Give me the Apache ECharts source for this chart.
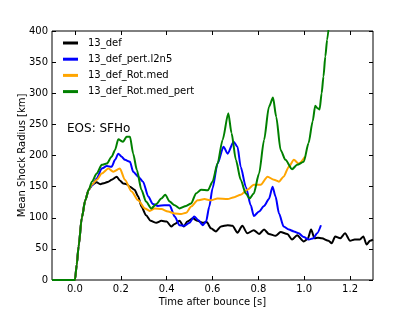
<!DOCTYPE html>
<html>
<head>
<meta charset="utf-8">
<script src="https://cdn.jsdelivr.net/npm/echarts@6/dist/echarts.min.js"></script>
<style>
html,body{margin:0;padding:0;background:#fff;}
#c{width:415px;height:312px;}
</style>
</head>
<body>
<div id="c"></div>
<script>
// ---- data ----
const seriesNames = ['13_def', '13_def_pert.l2n5', '13_def_Rot.med', '13_def_Rot.med_pert'];
const xTicks = [0.0, 0.2, 0.4, 0.6, 0.8, 1.0, 1.2];

const defT = [-0.1,0.0,0.008,0.016,0.03,0.045,0.06,0.075,0.095,0.11,0.13,0.146,0.16,0.182,0.196,0.21,0.225,0.24,0.26,0.276,0.29,0.31,0.33,0.355,0.377,0.4,0.42,0.435,0.456,0.475,0.49,0.514,0.535,0.557,0.575,0.593,0.615,0.637,0.666,0.687,0.709,0.73,0.752,0.78,0.803,0.825,0.846,0.875,0.897,0.926,0.947,0.969,0.998,1.015,1.03,1.045,1.06,1.077,1.106,1.12,1.135,1.157,1.178,1.2,1.22,1.243,1.258,1.272,1.287,1.3];
const defV = [0,0,25,54,100,128,145,153,157,154,156,158,161,166,160,155,154,150,145,134,118,104,95,92,95,94,86,90,95,86,94,99,95,92,93,83,78,86,88,87,76,87,75,80,74,81,74,71,77,74,65,72,62,66,81,67,68,67,63,59,70,67,75,63,65,65,70,57,63,65];

const pertT = [-0.1,0.0,0.008,0.016,0.03,0.045,0.06,0.075,0.095,0.117,0.139,0.16,0.175,0.189,0.204,0.218,0.24,0.254,0.276,0.297,0.32,0.34,0.362,0.39,0.413,0.435,0.456,0.478,0.5,0.52,0.539,0.557,0.572,0.586,0.6,0.622,0.648,0.666,0.692,0.709,0.723,0.745,0.767,0.78,0.803,0.825,0.846,0.862,0.875,0.89,0.91,0.933,0.955,0.976,0.998,1.02,1.04,1.056,1.073];
const pertV = [0,0,25,54,100,128,145,152,163,179,183,182,193,203,198,193,190,174,166,158,134,122,119,120,120,102,88,87,92,102,96,88,94,118,147,187,214,203,222,214,182,150,120,103,110,119,130,150,134,107,86,81,78,75,69,65,67,75,88];

const rotT = [-0.1,0.0,0.008,0.016,0.03,0.045,0.06,0.074,0.095,0.117,0.146,0.167,0.196,0.218,0.247,0.276,0.305,0.326,0.348,0.377,0.406,0.435,0.463,0.485,0.507,0.535,0.565,0.593,0.622,0.666,0.695,0.723,0.752,0.78,0.81,0.84,0.868,0.89,0.91,0.933,0.955,0.976,1.003];
const rotV = [0,0,25,54,100,128,145,153,161,171,179,174,179,161,142,128,115,111,115,114,110,107,106,108,118,128,130,128,131,130,133,137,145,153,153,166,161,158,166,182,193,187,198];

const rotPertT = [-0.1,0.0,0.008,0.016,0.03,0.045,0.06,0.074,0.095,0.117,0.139,0.16,0.175,0.189,0.21,0.225,0.24,0.254,0.27,0.29,0.31,0.333,0.355,0.377,0.394,0.413,0.435,0.456,0.485,0.507,0.528,0.55,0.58,0.6,0.622,0.644,0.669,0.683,0.702,0.723,0.745,0.762,0.78,0.803,0.825,0.846,0.864,0.878,0.897,0.918,0.947,0.969,0.998,1.019,1.037,1.048,1.058,1.067,1.076,1.084,1.092,1.1,1.115];
const rotPertV = [0,0,25,54,100,128,145,158,171,185,187,198,209,226,222,230,230,203,177,145,126,115,122,131,137,126,120,115,119,123,139,145,144,158,187,225,268,236,193,161,139,131,139,171,225,278,293,262,209,193,178,185,190,220,255,280,276,274,300,327,359,386,440];

const colors = ['#000000', '#0000ff', '#ffa500', '#008000'];

function pairs(t, v) { return t.map((x, i) => [x, v[i]]); }
const allData = [pairs(defT, defV), pairs(pertT, pertV), pairs(rotT, rotV), pairs(rotPertT, rotPertV)];

const chart = echarts.init(document.getElementById('c'), null, {renderer: 'canvas'});
const font = 'DejaVu Sans';
const tickCommon = {show: true, inside: true, length: 4, lineStyle: {color: '#000', width: 1}};
const noLine = {show: false, onZero: false};

const option = {
  animation: false,
  backgroundColor: '#fff',
  textStyle: {fontFamily: font, color: '#000'},
  grid: {left: 52, right: 42, top: 31, bottom: 32, show: true, borderColor: '#000', borderWidth: 1, backgroundColor: 'transparent'},
  legend: {
    orient: 'vertical', left: 58, top: 33, itemWidth: 15, itemHeight: 3, itemGap: 6.2,
    icon: 'rect',
    data: seriesNames,
    textStyle: {fontFamily: font, fontSize: 10, color: '#000', padding: [0, 0, 0, 5]}
  },
  graphic: [{
    type: 'text', left: 67, top: 123,
    style: {text: 'EOS: SFHo', font: '12px "DejaVu Sans"', fill: '#000'}
  }],
  xAxis: [{
    type: 'value', min: -0.1, max: 1.3,
    name: 'Time after bounce [s]', nameLocation: 'middle', nameGap: 17, nameMoveOverlap: false,
    nameTextStyle: {fontFamily: font, fontSize: 10, color: '#000'},
    axisLine: noLine,
    splitLine: {show: false},
    axisTick: Object.assign({customValues: xTicks}, tickCommon),
    axisLabel: {customValues: xTicks, formatter: v => v.toFixed(1), fontFamily: font, fontSize: 10, color: '#000', margin: 4}
  }, {
    type: 'value', min: -0.1, max: 1.3, position: 'top',
    axisLine: noLine, splitLine: {show: false},
    axisTick: Object.assign({customValues: xTicks}, tickCommon),
    axisLabel: {show: false}
  }],
  yAxis: [{
    type: 'value', min: 0, max: 400, interval: 50,
    name: 'Mean Shock Radius [km]', nameLocation: 'middle', nameGap: 25, nameMoveOverlap: false,
    nameTextStyle: {fontFamily: font, fontSize: 10, color: '#000'},
    axisLine: noLine, splitLine: {show: false},
    axisTick: tickCommon,
    axisLabel: {fontFamily: font, fontSize: 10, color: '#000', margin: 4}
  }, {
    type: 'value', min: 0, max: 400, interval: 50, position: 'right',
    axisLine: noLine, splitLine: {show: false},
    axisTick: tickCommon,
    axisLabel: {show: false}
  }],
  series: seriesNames.map((n, i) => ({
    name: n, type: 'line', data: allData[i], showSymbol: false, symbol: 'none',
    smooth: 0.25, smoothMonotone: 'x', clip: true,
    lineStyle: {color: colors[i], width: 2},
    itemStyle: {color: colors[i]}
  }))
};
chart.setOption(option);
</script>
</body>
</html>
